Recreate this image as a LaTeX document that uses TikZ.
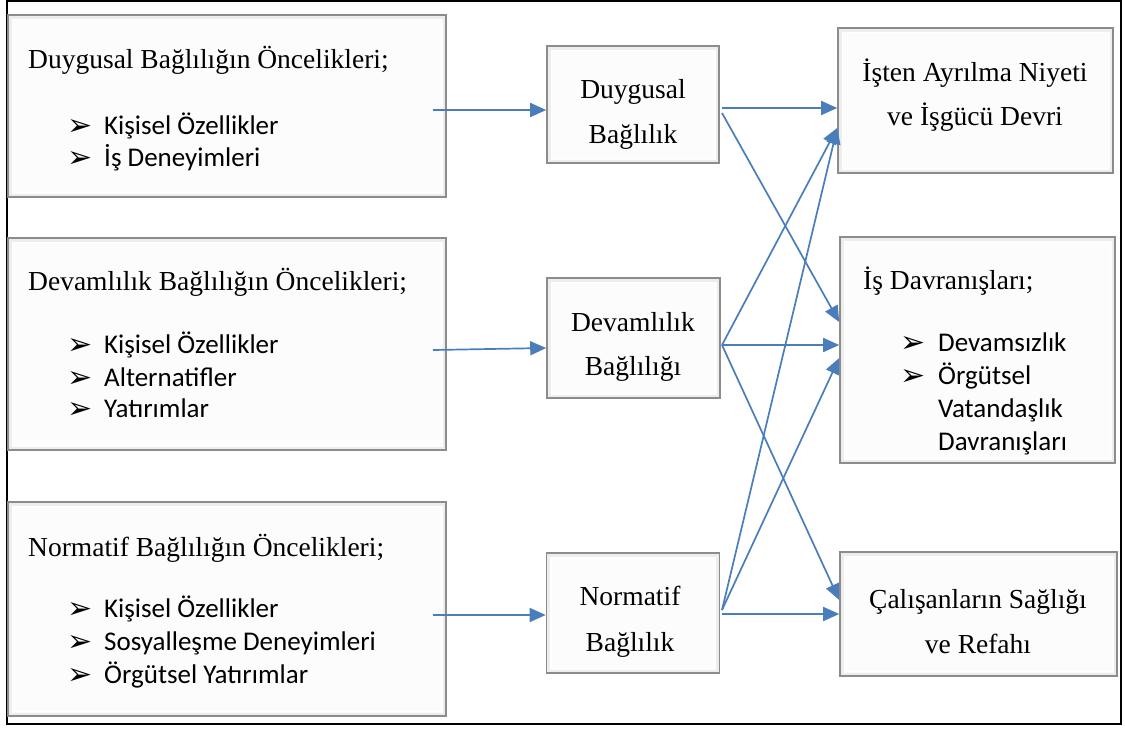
\documentclass[tikz,border=0pt]{standalone}
\usepackage{fontspec}
\setmainfont{Liberation Serif}
\newfontfamily\calibrifont{Carlito}
\newfontfamily\dingfont{DejaVu Sans}
\usetikzlibrary{arrows.meta}
\definecolor{linkblue}{HTML}{4A7EBB}

\begin{document}
\begin{tikzpicture}[x=1pt,y=-1pt,
  box/.style={draw=black!45, line width=1.6pt, fill=black!1, inner sep=0pt,
    path picture={
      \draw[black!7, line width=7pt]
        (path picture bounding box.south west) rectangle (path picture bounding box.north east);
      \draw[white, line width=1.2pt]
        ([shift={(4.5pt,4.5pt)}]path picture bounding box.south west) rectangle
        ([shift={(-4.5pt,-4.5pt)}]path picture bounding box.north east);
    }},
  conn/.style={draw=linkblue, line width=1.7pt, -{Triangle[length=16pt,width=14pt]}},
  serif/.style={font=\fontsize{27.5}{32}\selectfont, inner sep=0pt},
  sans/.style={font=\calibrifont\fontsize{27}{32}\selectfont, inner sep=0pt, anchor=base west},
  tick/.style={font=\dingfont\fontsize{30}{34}\selectfont, inner sep=0pt, anchor=base west},
]
\useasboundingbox (0,0) rectangle (1125,729);
\draw[line width=2pt] (7,1) rectangle (1121,724);

% antecedent boxes
\node[box, minimum width=438pt, minimum height=182pt] (a1) at (227,106) {};
\node[box, minimum width=438pt, minimum height=212pt] (a2) at (227,344) {};
\node[box, minimum width=438pt, minimum height=214pt] (a3) at (227,609) {};

% commitment boxes
\node[box, minimum width=172pt, minimum height=117pt] (m1) at (633,104.5) {};
\node[box, minimum width=173pt, minimum height=120pt] (m2) at (633.5,338) {};
\node[box, minimum width=173pt, minimum height=120pt] (m3) at (633,613) {};

% outcome boxes
\node[box, minimum width=275pt, minimum height=145pt] (r1) at (975.5,100.5) {};
\node[box, minimum width=275pt, minimum height=226pt] (r2) at (977.5,350) {};
\node[box, minimum width=277pt, minimum height=124pt] (r3) at (978.5,614) {};

% texts of the antecedent boxes
\node[serif, anchor=base west] (a1t) at (28,68) {Duygusal Bağlılığın Öncelikleri;};
\node[tick] (a1b1) at (67,135) {➢};
\node[sans] (a1s1) at (104,134) {Kişisel Özellikler};
\node[tick] (a1b2) at (67,167) {➢};
\node[sans] (a1s2) at (104,166) {İş Deneyimleri};

\node[serif, anchor=base west] (a2t) at (28,290) {Devamlılık Bağlılığın Öncelikleri;};
\node[tick] (a2b1) at (67,354) {➢};
\node[sans] (a2s1) at (104,353) {Kişisel Özellikler};
\node[tick] (a2b2) at (67,387) {➢};
\node[sans] (a2s2) at (104,386) {Alternatifler};
\node[tick] (a2b3) at (67,418) {➢};
\node[sans] (a2s3) at (104,417) {Yatırımlar};

\node[serif, anchor=base west] (a3t) at (28,556) {Normatif Bağlılığın Öncelikleri;};
\node[tick] (a3b1) at (67,618) {➢};
\node[sans] (a3s1) at (104,617) {Kişisel Özellikler};
\node[tick] (a3b2) at (67,651) {➢};
\node[sans] (a3s2) at (104,650) {Sosyalleşme Deneyimleri};
\node[tick] (a3b3) at (67,684) {➢};
\node[sans] (a3s3) at (104,683) {Örgütsel Yatırımlar};

% texts of the commitment boxes
\node[serif, anchor=base] (m1t1) at (633,98) {Duygusal};
\node[serif, anchor=base] (m1t2) at (633,143) {Bağlılık};
\node[serif, anchor=base] (m2t1) at (633,331) {Devamlılık};
\node[serif, anchor=base] (m2t2) at (633,375) {Bağlılığı};
\node[serif, anchor=base] (m3t1) at (630,605) {Normatif};
\node[serif, anchor=base] (m3t2) at (630,651) {Bağlılık};

% texts of the outcome boxes
\node[serif, anchor=base] (r1t1) at (975,81) {İşten Ayrılma Niyeti};
\node[serif, anchor=base] (r1t2) at (975,125) {ve İşgücü Devri};

\node[serif, anchor=base west] (r2t) at (863,289) {İş Davranışları;};
\node[tick] (r2b1) at (900,352) {➢};
\node[sans] (r2s1) at (938,351) {Devamsızlık};
\node[tick] (r2b2) at (900,385) {➢};
\node[sans] (r2s2) at (938,384) {Örgütsel};
\node[sans] (r2s3) at (938,417) {Vatandaşlık};
\node[sans] (r2s4) at (938,450) {Davranışları};

\node[serif, anchor=base] (r3t1) at (978,608) {Çalışanların Sağlığı};
\node[serif, anchor=base] (r3t2) at (978,653) {ve Refahı};

% connector end points
\coordinate (a1o) at (433,110);
\coordinate (a2o) at (433,350);
\coordinate (a3o) at (433,615);
\coordinate (m1o) at (722,108);
\coordinate (m1d) at (722,113);
\coordinate (m2o) at (722,345);
\coordinate (m3o) at (722,610);
\coordinate (m3h) at (722,614);

% antecedents to commitment
\draw[conn] (a1o) -- (a1o -| m1.west);
\draw[conn] (a2o) -- ([yshift=-10pt]m2.west);
\draw[conn] (a3o) -- (a3o -| m3.west);

% commitment to outcomes
\draw[conn] (m1o) -- (m1o -| r1.west);
\draw[conn] (m1d) -- ([yshift=28pt]r2.west);
\draw[conn] (m2o) -- ([yshift=-27.5pt]r1.west);
\draw[conn] (m2o) -- (m2o -| r2.west);
\draw[conn] (m2o) -- ([yshift=14pt]r3.west);
\draw[conn] (m3o) -- ([yshift=-27.5pt]r1.west);
\draw[conn] (m3o) -- ([yshift=-8pt]r2.west);
\draw[conn] (m3h) -- (m3h -| r3.west);
\end{tikzpicture}
\end{document}
